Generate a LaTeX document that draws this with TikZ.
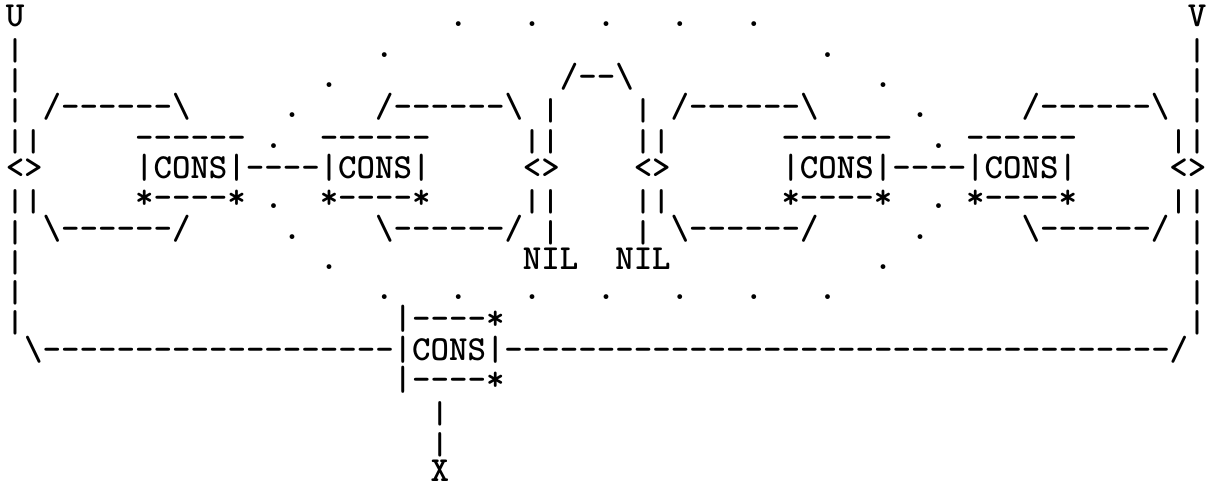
\documentclass[tikz,border=0pt]{standalone}
\usepackage{fontspec}
\usepackage{tikz}
\newfontfamily\typewriter{lmmonolt10-bold.otf}
\newcommand{\dashes}[1]{\foreach \i in {1,...,#1}{-}}
\tikzset{
  % typewriter glyphs set on a fixed character grid
  ascii node/.style={font=\fontsize{17.6}{17.6}\selectfont\typewriter,inner sep=0,outer sep=0,anchor=base west},
  % a lone bar is shorter, so stacked bars keep a gap
  bar node/.style={ascii node,yshift=-1.5pt,yscale=0.9,transform shape}
}

\begin{document}
\begin{tikzpicture}[x=9.235pt,y=-15.15pt]
  \useasboundingbox (-2.885pt,13.5pt) rectangle (607.615pt,-231.5pt);
  % The two ends
  \node[ascii node] (u) at (0,0) {U};
  \node[ascii node] (v) at (64,0) {V};
  \foreach \r in {1,2,3,7,8,9,10}{
    \node[bar node] (lbar\r) at (0,\r) {|};
    \node[bar node] (rbar\r) at (64,\r) {|};
  }
  \foreach \r in {4,6}{
    \node[bar node] (lpair\r) at (0,\r) {||};
    \node[bar node] (rpair\r) at (63,\r) {||};
    \node[bar node] (mlpair\r) at (28,\r) {||};
    \node[bar node] (mrpair\r) at (34,\r) {||};
  }
  \node[ascii node] (lnode) at (0,5) {<>};
  \node[ascii node] (mlnode) at (28,5) {<>};
  \node[ascii node] (mrnode) at (34,5) {<>};
  \node[ascii node] (rnode) at (63,5) {<>};
  % Loops round each chain
  \foreach \c/\n in {2/1,20/2,36/3,55/4}{
    \node[ascii node] (over\n) at (\c,3) {/\dashes{6}\textbackslash};
    \node[ascii node] (under\n) at (\c,7) {\textbackslash\dashes{6}/};
  }
  % The CONS cells of both chains
  \foreach \c/\n in {7/1,17/2,42/3,52/4}{
    \node[ascii node] (lid\n) at (\c,4) {\dashes{6}};
    \node[ascii node] (cons\n) at (\c,5) {|CONS|};
    \node[ascii node] (foot\n) at (\c,6) {*\dashes{4}*};
  }
  \node[ascii node] (link1) at (13,5) {\dashes{4}};
  \node[ascii node] (link2) at (48,5) {\dashes{4}};
  % middle pointers down to NIL
  \node[ascii node] (arch) at (30,2) {/--\textbackslash};
  \node[bar node] (mlbar3) at (29,3) {|};
  \node[bar node] (mrbar3) at (34,3) {|};
  \node[bar node] (mlbar7) at (29,7) {|};
  \node[bar node] (mrbar7) at (34,7) {|};
  \node[ascii node] (nil1) at (28,8) {NIL};
  \node[ascii node] (nil2) at (33,8) {NIL};
  % dotted ring
  \foreach \c in {24,28,32,36,40}
    \node[ascii node] (topdot\c) at (\c,0) {.};
  \foreach \c in {20,24,28,32,36,40,44}
    \node[ascii node] (lowdot\c) at (\c,9) {.};
  \foreach \c/\r in {20/1,17/2,15/3,14/4,14/6,15/7,17/8,44/1,47/2,49/3,50/4,50/6,49/7,47/8}
    \node[ascii node] (sidedot\c-\r) at (\c,\r) {.};
  % The joining CONS below
  \node[ascii node] (car) at (21,10) {|\dashes{4}*};
  \node[ascii node] (lwing) at (1,11) {\textbackslash\dashes{19}};
  \node[ascii node] (cons0) at (21,11) {|CONS|};
  \node[ascii node] (rwing) at (27,11) {\dashes{36}/};
  \node[ascii node] (cdr) at (21,12) {|\dashes{4}*};
  \node[bar node] (stem13) at (23,13) {|};
  \node[bar node] (stem14) at (23,14) {|};
  \node[ascii node] (x) at (23,15) {X};
\end{tikzpicture}
\end{document}
